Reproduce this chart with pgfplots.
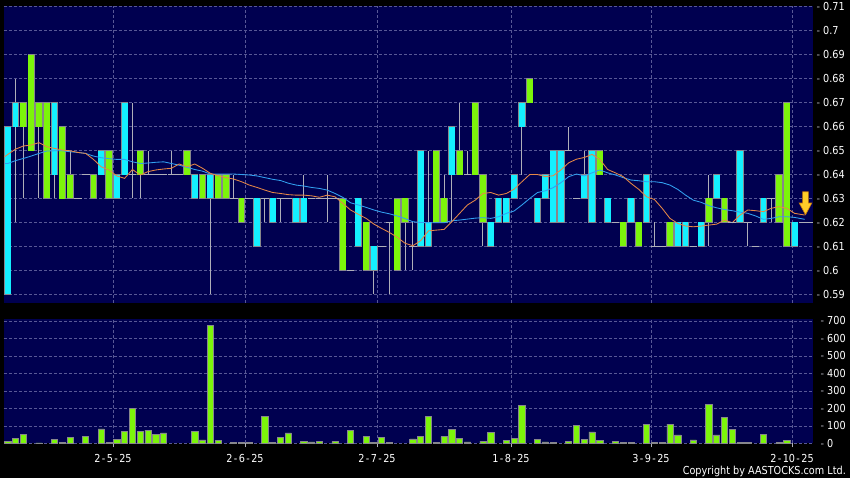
\documentclass[border=0pt]{standalone}
\usepackage{fontspec}
\setmainfont{DejaVu Sans}[FakeStretch=0.88]
\usepackage{pgfplots}
\pgfplotsset{compat=1.18}
\usepackage{pgfplotstable}

\definecolor{bgnavy}{RGB}{0,0,80}
\definecolor{cgreen}{RGB}{124,245,10}
\definecolor{ccyan}{RGB}{20,240,255}
\definecolor{cgrid}{RGB}{88,88,150}
\definecolor{cwick}{RGB}{175,175,185}
\definecolor{cbord}{RGB}{135,135,140}
\definecolor{cmao}{RGB}{230,135,70}
\definecolor{cmab}{RGB}{50,160,240}
\definecolor{carrow}{RGB}{255,205,40}
\definecolor{carrowd}{RGB}{200,120,10}

\newcommand{\dl}[1]{\textcolor{cwick}{-}\hspace{3pt}#1}
\newcommand{\hy}{\kern1.4pt-\kern1.4pt}

% t: 0 = cyan body, 1 = green body, 2 = doji ; o/c = body top/bottom ; h/l = high/low
\pgfplotstableread{
i t o c h l
0 0 0.66 0.59 0.66 0.59
1 0 0.67 0.66 0.68 0.62
2 1 0.67 0.66 0.67 0.63
3 1 0.69 0.65 0.69 0.65
4 1 0.67 0.66 0.67 0.63
5 1 0.67 0.63 0.67 0.63
6 0 0.67 0.64 0.67 0.63
7 1 0.66 0.63 0.66 0.63
8 1 0.64 0.63 0.65 0.63
9 2 0.63 0.63 0.63 0.63
10 2 0.64 0.64 0.64 0.64
11 1 0.64 0.63 0.64 0.63
12 0 0.65 0.64 0.65 0.64
13 1 0.65 0.63 0.65 0.63
14 0 0.64 0.63 0.64 0.63
15 0 0.67 0.64 0.67 0.64
16 2 0.64 0.64 0.67 0.63
17 1 0.65 0.64 0.65 0.63
18 2 0.64 0.64 0.65 0.64
19 2 0.64 0.64 0.64 0.64
20 2 0.64 0.64 0.64 0.64
21 2 0.64 0.64 0.65 0.64
22 2 0.64 0.64 0.64 0.64
23 1 0.65 0.64 0.65 0.64
24 0 0.64 0.63 0.64 0.63
25 1 0.64 0.63 0.64 0.63
26 0 0.64 0.63 0.64 0.59
27 1 0.64 0.63 0.64 0.63
28 1 0.64 0.63 0.64 0.63
29 2 0.63 0.63 0.64 0.63
30 1 0.63 0.62 0.63 0.62
31 2 0.63 0.63 0.63 0.63
32 0 0.63 0.61 0.63 0.61
33 2 0.63 0.63 0.63 0.62
34 0 0.63 0.62 0.63 0.62
35 2 0.63 0.63 0.63 0.62
36 2 0.63 0.63 0.63 0.63
37 0 0.63 0.62 0.63 0.62
38 0 0.63 0.62 0.64 0.62
39 2 0.63 0.63 0.63 0.63
40 2 0.63 0.63 0.63 0.63
41 2 0.63 0.63 0.64 0.62
42 2 0.63 0.63 0.63 0.63
43 1 0.63 0.60 0.63 0.60
44 2 0.60 0.60 0.60 0.60
45 0 0.63 0.61 0.63 0.61
46 1 0.62 0.60 0.62 0.60
47 0 0.61 0.60 0.61 0.59
48 2 0.61 0.61 0.61 0.61
49 2 0.62 0.62 0.62 0.59
50 1 0.63 0.60 0.63 0.60
51 1 0.63 0.62 0.63 0.60
52 2 0.61 0.61 0.62 0.60
53 0 0.65 0.61 0.65 0.61
54 0 0.62 0.61 0.65 0.61
55 1 0.65 0.62 0.65 0.62
56 1 0.63 0.62 0.64 0.62
57 0 0.66 0.64 0.66 0.62
58 1 0.65 0.64 0.67 0.64
59 2 0.64 0.64 0.65 0.64
60 1 0.67 0.64 0.67 0.64
61 1 0.64 0.62 0.64 0.61
62 0 0.62 0.61 0.62 0.61
63 0 0.63 0.62 0.63 0.62
64 0 0.63 0.62 0.63 0.62
65 0 0.64 0.63 0.64 0.63
66 0 0.67 0.66 0.67 0.64
67 1 0.68 0.67 0.68 0.67
68 0 0.63 0.62 0.63 0.62
69 0 0.64 0.63 0.64 0.63
70 0 0.65 0.62 0.65 0.62
71 0 0.65 0.62 0.65 0.62
72 2 0.65 0.65 0.66 0.65
73 2 0.63 0.63 0.63 0.63
74 0 0.64 0.63 0.65 0.63
75 0 0.65 0.62 0.65 0.62
76 1 0.65 0.64 0.65 0.64
77 0 0.63 0.62 0.63 0.62
78 2 0.62 0.62 0.62 0.62
79 1 0.62 0.61 0.62 0.61
80 0 0.63 0.62 0.63 0.62
81 1 0.62 0.61 0.62 0.61
82 0 0.64 0.62 0.64 0.62
83 2 0.61 0.61 0.62 0.61
84 2 0.61 0.61 0.61 0.61
85 1 0.62 0.61 0.62 0.61
86 0 0.62 0.61 0.62 0.61
87 0 0.62 0.61 0.62 0.61
88 2 0.61 0.61 0.61 0.61
89 0 0.62 0.61 0.62 0.61
90 1 0.63 0.62 0.64 0.61
91 0 0.64 0.63 0.64 0.63
92 1 0.63 0.62 0.63 0.62
93 2 0.62 0.62 0.62 0.62
94 0 0.65 0.62 0.65 0.62
95 2 0.62 0.62 0.62 0.61
96 2 0.61 0.61 0.61 0.61
97 0 0.63 0.62 0.63 0.62
98 2 0.63 0.63 0.63 0.62
99 1 0.64 0.62 0.64 0.62
100 1 0.67 0.61 0.67 0.61
101 0 0.62 0.61 0.62 0.61
}\candles

\pgfplotstableread{
i v
-0.4 0.6474
0 0.6484
1 0.6506
2 0.6519
3 0.6523
4 0.6533
5 0.6516
6 0.6509
7 0.6502
8 0.6499
9 0.6492
10 0.6488
11 0.6463
12 0.6432
13 0.6419
14 0.6394
15 0.6384
16 0.6421
17 0.6398
18 0.6412
19 0.6419
20 0.6423
21 0.6426
22 0.6444
23 0.6432
24 0.6444
25 0.6426
26 0.6405
27 0.6395
28 0.6387
29 0.6381
30 0.6370
31 0.6356
32 0.6346
33 0.6335
34 0.6325
35 0.6321
36 0.6316
37 0.6314
38 0.6314
39 0.6311
40 0.6305
41 0.6314
42 0.6307
43 0.6280
44 0.6252
45 0.6234
46 0.6217
47 0.6193
48 0.6175
49 0.6158
50 0.6138
51 0.6113
52 0.6103
53 0.6124
54 0.6165
55 0.6168
56 0.6171
57 0.6203
58 0.6238
59 0.6273
60 0.6293
61 0.6321
62 0.6325
63 0.6314
64 0.6321
65 0.6339
66 0.6370
67 0.6400
68 0.6400
69 0.6391
70 0.6395
71 0.6419
72 0.6449
73 0.6464
74 0.6471
75 0.6484
76 0.6463
77 0.6421
78 0.6407
79 0.6391
80 0.6363
81 0.6338
82 0.6307
83 0.6296
84 0.6259
85 0.6217
86 0.6196
87 0.6185
88 0.6182
89 0.6185
90 0.6189
91 0.6193
92 0.6210
93 0.6199
94 0.6231
95 0.6252
96 0.6249
97 0.6245
98 0.6259
99 0.6266
100 0.6259
101 0.6238
102.3 0.6231
}\maorange

\pgfplotstableread{
i v
-0.4 0.6446
0 0.6446
1 0.6458
2 0.6467
3 0.6477
4 0.6488
5 0.6498
6 0.6499
7 0.6499
8 0.6495
9 0.6492
10 0.6488
11 0.6477
12 0.6470
13 0.6466
14 0.6463
15 0.6463
16 0.6453
17 0.6446
18 0.6448
19 0.6451
20 0.6453
21 0.6446
22 0.6439
23 0.6430
24 0.6421
25 0.6414
26 0.6402
27 0.6402
28 0.6402
29 0.6402
30 0.6400
31 0.6398
32 0.6394
33 0.6387
34 0.6380
35 0.6375
36 0.6364
37 0.6356
38 0.6352
39 0.6346
40 0.6342
41 0.6335
42 0.6321
43 0.6305
44 0.6282
45 0.6273
46 0.6263
47 0.6252
48 0.6243
49 0.6236
50 0.6227
51 0.6216
52 0.6203
53 0.6200
54 0.6199
55 0.6199
56 0.6199
57 0.6207
58 0.6210
59 0.6214
60 0.6218
61 0.6220
62 0.6217
63 0.6224
64 0.6238
65 0.6248
66 0.6273
67 0.6300
68 0.6325
69 0.6332
70 0.6345
71 0.6366
72 0.6391
73 0.6402
74 0.6394
75 0.6407
76 0.6419
77 0.6407
78 0.6398
79 0.6387
80 0.6377
81 0.6374
82 0.6370
83 0.6370
84 0.6366
85 0.6356
86 0.6338
87 0.6314
88 0.6293
89 0.6284
90 0.6270
91 0.6261
92 0.6254
93 0.6249
94 0.6243
95 0.6238
96 0.6227
97 0.6213
98 0.6217
99 0.6224
100 0.6224
101 0.6221
102.3 0.6213
}\mablue

\pgfplotstableread{
i v
0 10
1 27
2 51
4 2
6 23
7 6
8 34
10 38
12 82
13 4
14 21
15 69
16 198
17 67
18 76
19 50
20 59
24 70
25 19
26 674
27 17
29 3
30 3
31 3
33 152
34 4
35 36
36 59
38 13
39 8
40 11
42 10
44 72
46 40
47 4
48 34
49 6
52 25
53 40
54 154
55 6
56 38
57 78
58 29
59 8
61 13
62 63
64 17
65 29
66 215
68 21
69 8
70 4
72 13
73 101
74 23
75 65
76 17
78 11
79 6
80 4
82 109
83 6
84 4
85 109
86 48
88 19
90 223
91 48
92 150
93 78
94 4
95 4
97 51
99 4
100 15
}\vol

\pgfplotsset{
  chartbase/.style={
    scale only axis, anchor=south west, width=809pt,
    xmin=4, xmax=813,
    axis background/.style={fill=bgnavy},
    axis line style={draw=none},
    xtick={113,245,377,511,651,792},
    ytick pos=right,
    grid=major,
    major grid style={cgrid, dash pattern=on 3pt off 2pt, line width=0.6pt},
    ytick style={draw=none},
    yticklabel style={anchor=west, inner sep=0pt, xshift=3.5pt,
      font=\fontsize{11}{12}\selectfont, text=white},
    xticklabel style={font=\fontsize{11}{12}\selectfont, text=white},
  },
}

\begin{document}
\begin{tikzpicture}
\fill[black] (0pt,0pt) rectangle (850pt,478pt);

% ---------------- price panel ----------------
\begin{axis}[chartbase,
  at={(4pt,175pt)}, height=296.5pt,
  ymin=0.5864, ymax=0.7101,
  xticklabels={}, xtick style={draw=none},
  ytick={0.59,0.6,0.61,0.62,0.63,0.64,0.65,0.66,0.67,0.68,0.69,0.7,0.71},
  yticklabels={\dl{0.59},\dl{0.6},\dl{0.61},\dl{0.62},\dl{0.63},\dl{0.64},\dl{0.65},\dl{0.66},\dl{0.67},\dl{0.68},\dl{0.69},\dl{0.7},\dl{0.71}},
]
% wicks
\addplot[draw=none, mark=none, forget plot,
  error bars/.cd, y dir=plus, y explicit, error mark=none,
  error bar style={draw=cwick, line width=1pt, solid}]
  table[x expr=7.8+7.79*\thisrow{i}, y=l, y error expr=\thisrow{h}-\thisrow{l}] {\candles};
% body outlines
\addplot[draw=none, mark=none, forget plot,
  restrict expr to domain={\thisrow{t}}{0:1},
  error bars/.cd, y dir=both, y explicit, error mark=none,
  error bar style={draw=cbord, line width=7.2pt, solid}]
  table[x expr=7.8+7.79*\thisrow{i}, y expr=(\thisrow{o}+\thisrow{c})/2,
        y error expr=(\thisrow{o}-\thisrow{c})/2+0.0003] {\candles};
% cyan bodies
\addplot[draw=none, mark=none, forget plot,
  restrict expr to domain={\thisrow{t}}{0:0},
  error bars/.cd, y dir=both, y explicit, error mark=none,
  error bar style={draw=ccyan, line width=5.8pt, solid}]
  table[x expr=7.8+7.79*\thisrow{i}, y expr=(\thisrow{o}+\thisrow{c})/2,
        y error expr=(\thisrow{o}-\thisrow{c})/2] {\candles};
% green bodies
\addplot[draw=none, mark=none, forget plot,
  restrict expr to domain={\thisrow{t}}{1:1},
  error bars/.cd, y dir=both, y explicit, error mark=none,
  error bar style={draw=cgreen, line width=5.8pt, solid}]
  table[x expr=7.8+7.79*\thisrow{i}, y expr=(\thisrow{o}+\thisrow{c})/2,
        y error expr=(\thisrow{o}-\thisrow{c})/2] {\candles};
% doji
\addplot[only marks, mark=-, mark size=3.8pt, forget plot,
  mark options={draw=cwick, line width=1pt},
  restrict expr to domain={\thisrow{t}}{2:2}]
  table[x expr=7.8+7.79*\thisrow{i}, y=o] {\candles};
% moving averages
\addplot[cmab, line width=0.85pt, mark=none] table[x expr=7.8+7.79*\thisrow{i}, y=v] {\mablue};
\addplot[cmao, line width=0.85pt, mark=none] table[x expr=7.8+7.79*\thisrow{i}, y=v] {\maorange};
% last price line and arrow
\addplot[cwick, line width=0.8pt, mark=none] coordinates {(799,0.62) (813,0.62)};
\addplot[fill=carrow, draw=carrowd, line width=0.6pt, mark=none]
  coordinates {(802.6,0.6328) (808.4,0.6328) (808.4,0.6281) (811.8,0.6281) (805.5,0.6232) (799.2,0.6281) (802.6,0.6281)} -- cycle;
\end{axis}

% ---------------- volume panel ----------------
\begin{axis}[chartbase,
  at={(4pt,34.7pt)}, height=124.3pt,
  ymin=0, ymax=711,
  xtick pos=bottom, tick align=outside, major tick length=4pt,
  xtick style={draw=cwick, line width=0.8pt},
  xticklabels={2\hy5\hy25,2\hy6\hy25,2\hy7\hy25,1\hy8\hy25,3\hy9\hy25,2\hy10\hy25},
  xticklabel style={yshift=-3.5pt},
  ytick={0,100,200,300,400,500,600,700},
  yticklabels={\dl{0},\dl{100},\dl{200},\dl{300},\dl{400},\dl{500},\dl{600},\dl{700}},
]
\addplot[ybar, bar width=6.2, fill=cgreen, draw=cbord, line width=0.7pt]
  table[x expr=7.8+7.79*\thisrow{i}, y=v] {\vol};
\end{axis}

\node[anchor=base east, text=white, inner sep=0pt] at (846pt,3pt)
  {\fontsize{11}{12}\selectfont Copyright by AASTOCKS.com Ltd.};

\pgfresetboundingbox
\useasboundingbox (0pt,0pt) rectangle (850pt,478pt);
\end{tikzpicture}
\end{document}
